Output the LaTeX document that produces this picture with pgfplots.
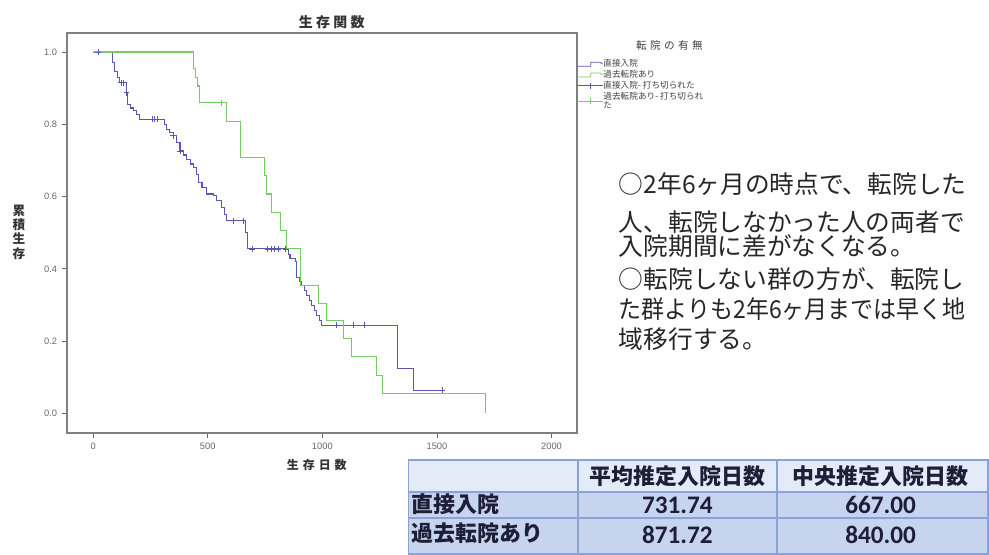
\documentclass[border=0pt]{standalone}
\usepackage{pgfplots}
\pgfplotsset{compat=1.18}
\usepackage{fontspec}
\setmainfont{Liberation Sans}
\newfontfamily\cjk{Noto Sans CJK JP}
\newfontfamily\carl{Carlito}
\definecolor{kmblue}{RGB}{88,88,178}
\definecolor{kmgreen}{RGB}{118,204,100}
\definecolor{tabhead}{RGB}{228,235,248}
\definecolor{tabbody}{RGB}{198,212,238}
\definecolor{tabline}{RGB}{140,162,214}
\definecolor{tabtext}{RGB}{30,30,55}
\begin{document}
\begin{tikzpicture}
\begin{scope}[x=0.75pt,y=-0.75pt]
\path[use as bounding box] (0,0) rectangle (989,552);
\end{scope}
\begin{axis}[
  at={(50.25pt,-325.875pt)}, anchor=south west,
  scale only axis, width=384pt, height=301.125pt,
  xmin=-115, xmax=2110, ymin=-0.054, ymax=1.053,
  axis line style={draw=black!50, line width=1.3pt},
  xtick={0,500,1000,1500,2000}, ytick={0,0.2,0.4,0.6,0.8,1.0},
  yticklabel style={/pgf/number format/.cd, fixed, fixed zerofill, precision=1},
  xticklabel style={/pgf/number format/.cd, fixed, 1000 sep={}},
  /pgf/number format/assume math mode=true,
  tick label style={font=\fontsize{7}{8}\selectfont, text=black!60},
  tick align=outside, tick pos=left,
  major tick length=3.75pt,
  tick style={black!60, line width=0.6pt},
  legend style={at={(1.0,0.935)}, anchor=north west, draw=none, fill=none,
    inner xsep=0pt, inner ysep=0pt, row sep=0.6pt,
    font=\cjk\fontsize{6.5}{6.8}\selectfont, text=black!75,
    nodes={inner sep=0.3pt, align=left}},
  legend cell align=left,
]
\addplot[kmblue, line width=0.8pt, const plot,
  legend image code/.code={\draw[kmblue,line width=0.6pt] (0pt,-1.5pt)--(10pt,-1.5pt)--(10pt,1.5pt)--(17pt,1.5pt)--(19pt,0pt);}]
coordinates {
(21,1.0) (83,0.97) (95,0.945) (108,0.93) (117,0.915) (146,0.887) (152,0.855)
(165,0.845) (175,0.837) (190,0.826) (204,0.814) (313,0.8) (321,0.786) (335,0.777)
(350,0.768) (365,0.75) (379,0.726) (395,0.715) (408,0.703) (423,0.69) (437,0.68)
(450,0.66) (459,0.639) (475,0.625) (496,0.607) (524,0.602) (540,0.59) (561,0.57)
(572,0.55) (583,0.533) (665,0.501) (672,0.455) (851,0.44) (859,0.428) (881,0.419)
(888,0.377) (899,0.366) (910,0.354) (921,0.34) (932,0.326) (943,0.312) (954,0.299)
(965,0.285) (976,0.271) (987,0.258) (998,0.244) (1327,0.124) (1397,0.064) (1522,0.064)
};
\addlegendentry{直接入院}
\addplot[kmgreen, line width=0.8pt, const plot,
  legend image code/.code={\draw[kmgreen,line width=0.6pt] (0pt,-1.5pt)--(10pt,-1.5pt)--(10pt,1.5pt)--(17pt,1.5pt)--(19pt,0pt);}]
coordinates {
(0,1.0) (437,0.955) (447,0.93) (455,0.906) (463,0.86) (583,0.809) (641,0.708)
(748,0.657) (757,0.607) (779,0.556) (816,0.506) (845,0.455) (903,0.354)
(983,0.303) (1020,0.257) (1092,0.207) (1129,0.156) (1238,0.106) (1264,0.055)
(1711,0.0) (1711,0.0)
};
\addlegendentry{過去転院あり}
\addplot[kmblue, only marks, mark=+, mark size=2.2pt, line width=0.6pt,
  legend image code/.code={\draw[kmblue,line width=0.6pt] (0pt,0pt)--(19pt,0pt) (9.5pt,-2.2pt)--(9.5pt,2.2pt);}]
coordinates {
(21,1.0) (122,0.915) (133,0.915) (146,0.887) (258,0.814) (268,0.814) (279,0.814)
(350,0.768) (379,0.726) (611,0.533) (655,0.533) (694,0.455) (762,0.455)
(777,0.455) (792,0.455) (808,0.455) (840,0.455) (1063,0.244) (1135,0.244)
(1183,0.244) (1522,0.064)
};
\addlegendentry{直接入院- 打ち切られた}
\addplot[kmgreen, only marks, mark=+, mark size=2.2pt, line width=0.6pt,
  legend image code/.code={\draw[kmgreen,line width=0.6pt] (0pt,0pt)--(19pt,0pt) (9.5pt,-2.2pt)--(9.5pt,2.2pt);}]
coordinates {
(561,0.86)
};
\addlegendentry{過去転院あり- 打ち切られ\\た}
\end{axis}
\begin{scope}[x=0.75pt,y=-0.75pt]
% titles and labels
\node[font=\cjk\bfseries\fontsize{10.5}{11}\selectfont, text=black!80] at (333,22) {生\hspace{2.5pt}存\hspace{2.5pt}関\hspace{2.5pt}数};
\node[font=\cjk\bfseries\fontsize{9.5}{10.9}\selectfont, text=black!80, align=center] at (19,233) {累\\積\\生\\存};
\node[font=\cjk\bfseries\fontsize{9}{10}\selectfont, text=black!80] at (318,467) {生\hspace{3pt}存\hspace{3pt}日\hspace{3pt}数};
\node[font=\cjk\fontsize{8}{9}\selectfont, text=black!75] at (672,46) {転\hspace{2.5pt}院\hspace{2.5pt}の\hspace{2.5pt}有\hspace{2.5pt}無};
% text block
\begin{scope}[every node/.style={anchor=west, inner sep=0pt, font=\cjk\fontsize{18.6}{19}\selectfont, text=black!85}]
\node at (621,185) {○2年6ヶ月の時点で、転院した};
\node at (621,223) {人、転院しなかった人の両者で};
\node at (621,247) {入院期間に差がなくなる。};
\node at (621,280) {○転院しない群の方が、転院し};
\node[xscale=0.93] at (621,310) {た群よりも2年6ヶ月までは早く地};
\node at (621,340) {域移行する。};
\end{scope}
% table
\fill[tabhead] (410,462) rectangle (992,494);
\fill[tabbody] (410,494) rectangle (992,556);
\draw[tabline, line width=1.2pt] (410,462) rectangle (992,556);
\draw[tabline, line width=1.2pt] (410,494) -- (992,494) (410,520) -- (992,520)
  (580,462) -- (580,556) (780,462) -- (780,556);
\begin{scope}[every node/.style={inner sep=0pt, text=tabtext}]
\node[font=\cjk\bfseries\fontsize{16.5}{17}\selectfont] at (680,478) {平均推定入院日数};
\node[font=\cjk\bfseries\fontsize{16.5}{17}\selectfont] at (884,478) {中央推定入院日数};
\node[font=\cjk\bfseries\fontsize{16.5}{17}\selectfont, anchor=west] at (413,506) {直接入院};
\node[font=\cjk\bfseries\fontsize{16.5}{17}\selectfont, anchor=west] at (413,535) {過去転院あり};
\node[font=\carl\bfseries\fontsize{19}{20}\selectfont] at (680,507) {731.74};
\node[font=\carl\bfseries\fontsize{19}{20}\selectfont] at (884,507) {667.00};
\node[font=\carl\bfseries\fontsize{19}{20}\selectfont] at (680,537) {871.72};
\node[font=\carl\bfseries\fontsize{19}{20}\selectfont] at (884,537) {840.00};
\end{scope}
\end{scope}
\end{tikzpicture}
\end{document}
